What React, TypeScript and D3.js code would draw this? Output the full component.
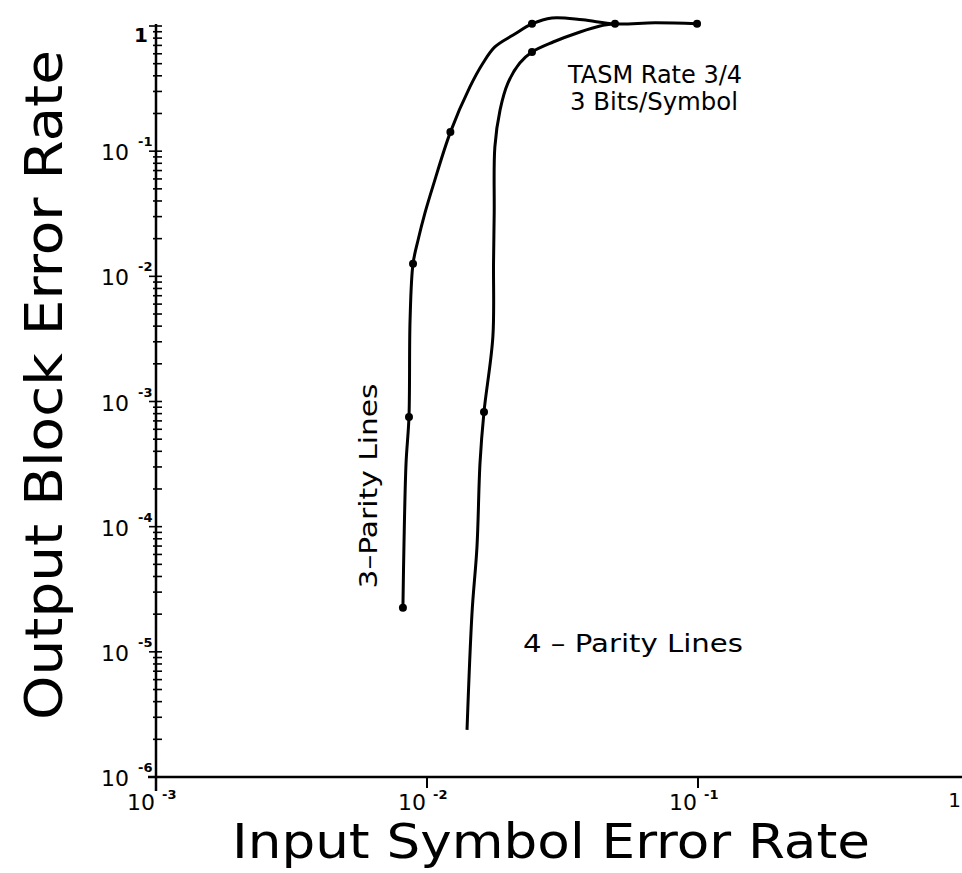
import React, { useEffect, useRef } from "react";
import * as d3 from "d3";

const width = 962;
const height = 873;

// 3-Parity Lines (left curve)
const threeParityX = [0.00815, 0.00822, 0.00837, 0.00858, 0.00866, 0.00888, 0.00927, 0.00983, 0.0105, 0.0122, 0.0144, 0.0161, 0.0178, 0.0208, 0.0244, 0.0289, 0.0376, 0.0494, 0.0694, 0.0992];
const threeParityY = [2.25e-5, 6.9e-5, 3.23e-4, 7.53e-4, 4.49e-3, 0.0126, 0.0195, 0.0321, 0.0518, 0.142, 0.326, 0.506, 0.68, 0.847, 1.04, 1.16, 1.12, 1.04, 1.06, 1.04];
const threeParityDots = [0, 3, 5, 9, 14, 17, 19];

// 4-Parity Lines (right curve)
const fourParityX = [0.01405, 0.01466, 0.01529, 0.01569, 0.01623, 0.0175, 0.0176, 0.0177, 0.0178, 0.0186, 0.0199, 0.022, 0.0244, 0.0292, 0.0367, 0.0435, 0.0494];
const fourParityY = [2.38e-6, 2.05e-5, 6.9e-5, 3.23e-4, 8.26e-4, 3.28e-3, 0.0128, 0.0321, 0.108, 0.213, 0.351, 0.506, 0.62, 0.745, 0.896, 1.0, 1.04];
const fourParityDots = [4, 12];

// tick labels: exponent of ten, 0 is printed as "1"
const xTickExps = [-3, -2, -1, 0];
const yTickExps = [0, -1, -2, -3, -4, -5, -6];

const font = "'DejaVu Sans', sans-serif";

const App = () => {
  const svgRef = useRef(null);

  useEffect(() => {
    const svg = d3.select(svgRef.current);
    svg.selectAll("*").remove();

    const x = d3.scaleLog().domain([1e-3, 1]).range([156, 969]);
    const y = d3.scaleLog().domain([1e-6, 1]).range([777, 26]);

    const g = svg.append("g").style("white-space", "pre");

    // axes lines
    g.append("line")
      .attr("x1", x(1e-3)).attr("x2", x(1e-3))
      .attr("y1", y(1) - 2).attr("y2", y(1e-6) + 14)
      .attr("stroke", "#000").attr("stroke-width", 2.5);
    g.append("line")
      .attr("x1", x(1e-3) - 8).attr("x2", width)
      .attr("y1", y(1e-6)).attr("y2", y(1e-6))
      .attr("stroke", "#000").attr("stroke-width", 2.5);

    // y minor / major ticks
    g.selectAll(".ytick")
      .data(y.ticks())
      .join("line")
      .attr("class", "ytick")
      .attr("x1", (d) => x(1e-3) - (Number.isInteger(Math.log10(d)) ? 7 : 3))
      .attr("x2", x(1e-3) + 6)
      .attr("y1", (d) => y(d))
      .attr("y2", (d) => y(d))
      .attr("stroke", "#000")
      .attr("stroke-width", 1.6);

    // x major ticks
    g.selectAll(".xtick")
      .data(xTickExps.slice(1))
      .join("line")
      .attr("class", "xtick")
      .attr("x1", (e) => x(Math.pow(10, e)))
      .attr("x2", (e) => x(Math.pow(10, e)))
      .attr("y1", y(1e-6))
      .attr("y2", y(1e-6) + 11)
      .attr("stroke", "#000")
      .attr("stroke-width", 2);

    // y tick labels
    yTickExps.forEach((e) => {
      const py = y(Math.pow(10, e));
      if (e === 0) {
        g.append("text").attr("x", 141).attr("y", py + 16)
          .attr("text-anchor", "middle").attr("font-size", 20)
          .attr("font-weight", "bold")
          .attr("font-family", font).text("1");
        return;
      }
      g.append("text").attr("x", 129).attr("y", py + 9)
        .attr("text-anchor", "end").attr("font-size", 22)
        .attr("font-family", font).text("10");
      g.append("text").attr("x", 138).attr("y", py - 5)
        .attr("font-size", 13).attr("font-weight", "bold")
        .attr("font-family", font).text("-" + Math.abs(e));
    });

    // x tick labels
    xTickExps.forEach((e) => {
      const px = x(Math.pow(10, e));
      if (e === 0) {
        g.append("text").attr("x", width - 1).attr("y", y(1e-6) + 30)
          .attr("text-anchor", "end").attr("font-size", 20)
          .attr("font-family", font).text("1");
        return;
      }
      g.append("text").attr("x", px - 1).attr("y", y(1e-6) + 33)
        .attr("text-anchor", "end").attr("font-size", 22)
        .attr("font-family", font).text("10");
      g.append("text").attr("x", px + 6).attr("y", y(1e-6) + 22)
        .attr("font-size", 13).attr("font-weight", "bold")
        .attr("font-family", font).text("-" + Math.abs(e));
    });

    // curves
    const line = d3
      .line()
      .x((d) => x(d[0]))
      .y((d) => y(d[1]))
      .curve(d3.curveCatmullRom.alpha(0.5));

    const series = [
      { xs: threeParityX, ys: threeParityY, dots: threeParityDots },
      { xs: fourParityX, ys: fourParityY, dots: fourParityDots },
    ];

    series.forEach((s) => {
      const pts = s.xs.map((v, i) => [v, s.ys[i]]);
      g.append("path")
        .attr("d", line(pts))
        .attr("fill", "none")
        .attr("stroke", "#000")
        .attr("stroke-width", 3)
        .attr("stroke-linejoin", "round");
      g.selectAll(null)
        .data(s.dots)
        .join("circle")
        .attr("cx", (i) => x(s.xs[i]))
        .attr("cy", (i) => y(s.ys[i]))
        .attr("r", 4)
        .attr("fill", "#000");
    });

    // annotations
    g.append("text").attr("x", 568).attr("y", 83)
      .attr("font-size", 24).attr("font-family", font)
      .attr("textLength", 174).attr("lengthAdjust", "spacingAndGlyphs")
      .text("TASM  Rate  3/4");
    g.append("text").attr("x", 570).attr("y", 110)
      .attr("font-size", 24).attr("font-family", font)
      .attr("textLength", 168).attr("lengthAdjust", "spacingAndGlyphs")
      .text("3  Bits/Symbol");
    g.append("text").attr("x", 523).attr("y", 652)
      .attr("font-size", 25).attr("font-family", font)
      .attr("textLength", 220).attr("lengthAdjust", "spacingAndGlyphs")
      .text("4 \u2013 Parity  Lines");
    g.append("text")
      .attr("transform", "translate(377,486) rotate(-90)")
      .attr("text-anchor", "middle")
      .attr("font-size", 25).attr("font-family", font)
      .attr("textLength", 205).attr("lengthAdjust", "spacingAndGlyphs")
      .text("3\u2013Parity  Lines");

    // axis titles
    g.append("text")
      .attr("transform", "translate(62,385) rotate(-90)")
      .attr("text-anchor", "middle")
      .attr("font-size", 52).attr("font-family", font)
      .attr("textLength", 670).attr("lengthAdjust", "spacingAndGlyphs")
      .text("Output  Block  Error  Rate");
    g.append("text")
      .attr("x", 551).attr("y", 858)
      .attr("text-anchor", "middle")
      .attr("font-size", 48).attr("font-family", font)
      .attr("textLength", 638).attr("lengthAdjust", "spacingAndGlyphs")
      .text("Input  Symbol  Error  Rate");
  }, []);

  return (
    <svg
      ref={svgRef}
      width={width}
      height={height}
      style={{ position: "absolute", left: 0, top: 0, background: "#fff" }}
    ></svg>
  );
};

export default App;
